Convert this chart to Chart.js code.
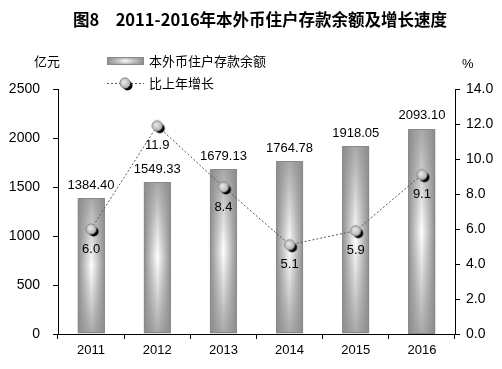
<!DOCTYPE html>
<html>
<head>
<meta charset="utf-8">
<script src="https://cdn.jsdelivr.net/npm/chart.js@4"></script>
<style>
  html, body { margin: 0; padding: 0; background: #fff; }
  #wrap { width: 502px; height: 369px; position: relative; }
</style>
</head>
<body>
<div id="wrap"><canvas id="chart"></canvas></div>
<script>
var years = ['2011', '2012', '2013', '2014', '2015', '2016'];
var balances = [1384.40, 1549.33, 1679.13, 1764.78, 1918.05, 2093.10];
var growth = [6.0, 11.9, 8.4, 5.1, 5.9, 9.1];
var leftTicks = [0, 500, 1000, 1500, 2000, 2500];
var rightTicks = [0, 2, 4, 6, 8, 10, 12, 14];

var sansFont = "'Liberation Sans', Arial, sans-serif";
var cjkFont = "'Noto Sans CJK SC', sans-serif";

// marker: grey ball with a black shadow to the lower right
var dot = document.createElement('canvas');
dot.width = 18; dot.height = 18;
(function() {
    var c = dot.getContext('2d');
    c.fillStyle = '#000';
    c.beginPath(); c.arc(11.5, 11.5, 5, 0, Math.PI * 2); c.fill();
    var g = c.createRadialGradient(8, 8, 1, 9, 9, 5.5);
    g.addColorStop(0, '#e4e4e4');
    g.addColorStop(1, '#ababab');
    c.fillStyle = g;
    c.beginPath(); c.arc(9, 9, 5.2, 0, Math.PI * 2); c.fill();
    c.strokeStyle = '#808080';
    c.lineWidth = 0.8;
    c.stroke();
})();

function paintBar(ctx, left, top, w, h) {
    var g = ctx.createLinearGradient(left, 0, left + w, 0);
    g.addColorStop(0, '#8c8c8c');
    g.addColorStop(0.5, '#ffffff');
    g.addColorStop(1, '#8c8c8c');
    ctx.fillStyle = g;
    ctx.fillRect(left, top, w, h);
    var v = ctx.createLinearGradient(0, top, 0, top + h);
    v.addColorStop(0, 'rgba(140,140,140,0.75)');
    v.addColorStop(0.5, 'rgba(140,140,140,0)');
    v.addColorStop(1, 'rgba(140,140,140,0.75)');
    ctx.fillStyle = v;
    ctx.fillRect(left, top, w, h);
    ctx.strokeStyle = '#8a8a8a';
    ctx.lineWidth = 1;
    ctx.strokeRect(left + 0.5, top + 0.5, w - 1, h - 1);
}

var decor = {
    id: 'decor',
    afterDatasetDraw: function(chart, args) {
        if (args.index !== 0) return;
        var ctx = chart.ctx;
        ctx.save();
        args.meta.data.forEach(function(bar) {
            var w = bar.width;
            paintBar(ctx, Math.round(bar.x - w / 2), Math.round(bar.y), Math.round(w), Math.round(bar.base - bar.y));
        });
        ctx.restore();
    },
    afterDraw: function(chart) {
        var ctx = chart.ctx;
        ctx.save();
        ctx.fillStyle = '#000';
        ctx.textBaseline = 'middle';

        // title
        ctx.font = "bold 16.5px " + cjkFont;
        ctx.textAlign = 'center';
        ctx.fillText('图8　2011-2016年本外币住户存款余额及增长速度', 260, 20);

        // units
        ctx.font = "13px " + cjkFont;
        ctx.textAlign = 'left';
        ctx.fillText('亿元', 34, 61);
        ctx.font = "13px " + sansFont;
        ctx.fillText('%', 462, 64);

        // legend
        paintBar(ctx, 107, 57, 37, 8);
        ctx.font = "13px " + cjkFont;
        ctx.fillStyle = '#000';
        ctx.fillText('本外币住户存款余额', 149, 61);
        ctx.strokeStyle = '#555';
        ctx.lineWidth = 1;
        ctx.setLineDash([2, 2]);
        ctx.beginPath(); ctx.moveTo(107, 83.5); ctx.lineTo(144, 83.5); ctx.stroke();
        ctx.setLineDash([]);
        ctx.drawImage(dot, 125 - 9, 83 - 9);
        ctx.fillText('比上年增长', 149, 83);

        // value labels
        ctx.font = "13px " + sansFont;
        ctx.textAlign = 'center';
        chart.getDatasetMeta(0).data.forEach(function(bar, i) {
            ctx.fillText(balances[i].toFixed(2), bar.x, bar.y - 13);
        });
        chart.getDatasetMeta(1).data.forEach(function(pt, i) {
            ctx.fillText(growth[i].toFixed(1), pt.x, pt.y + 20);
        });
        ctx.restore();
    }
};

new Chart(document.getElementById('chart'), {
    type: 'bar',
    data: {
        labels: years,
        datasets: [{
            label: '本外币住户存款余额',
            data: balances,
            backgroundColor: '#bbbbbb',
            barPercentage: 0.41,
            categoryPercentage: 1,
            yAxisID: 'y',
            order: 2
        }, {
            type: 'line',
            label: '比上年增长',
            data: growth,
            borderColor: '#555',
            borderWidth: 1,
            borderDash: [2, 2],
            pointStyle: dot,
            yAxisID: 'y1',
            order: 1
        }]
    },
    plugins: [decor],
    options: {
        responsive: true,
        maintainAspectRatio: false,
        animation: false,
        layout: { padding: { top: 89, left: 0, right: 0, bottom: 0 } },
        plugins: { legend: { display: false }, tooltip: { enabled: false } },
        scales: {
            x: {
                offset: true,
                afterFit: function(s) { s.height = 35; },
                ticks: { color: '#000', font: { family: sansFont, size: 13 }, padding: 4 },
                grid: { offset: true, drawOnChartArea: false, tickLength: 5, color: '#000' },
                border: { color: '#000' }
            },
            y: {
                position: 'left',
                min: 0, max: 2500,
                afterFit: function(s) { s.width = 58; },
                afterBuildTicks: function(s) { s.ticks = leftTicks.map(function(v) { return { value: v }; }); },
                ticks: { color: '#000', font: { family: sansFont, size: 14 }, padding: 13,
                    callback: function(v) { return String(v); } },
                grid: { drawOnChartArea: false, tickLength: 5, color: '#000' },
                border: { color: '#000' }
            },
            y1: {
                position: 'right',
                min: 0, max: 14,
                afterFit: function(s) { s.width = 47; },
                afterBuildTicks: function(s) { s.ticks = rightTicks.map(function(v) { return { value: v }; }); },
                ticks: { color: '#000', font: { family: sansFont, size: 14 }, padding: 6,
                    callback: function(v) { return v.toFixed(1); } },
                grid: { drawOnChartArea: false, tickLength: 5, color: '#000' },
                border: { color: '#000' }
            }
        }
    }
});
</script>
</body>
</html>
